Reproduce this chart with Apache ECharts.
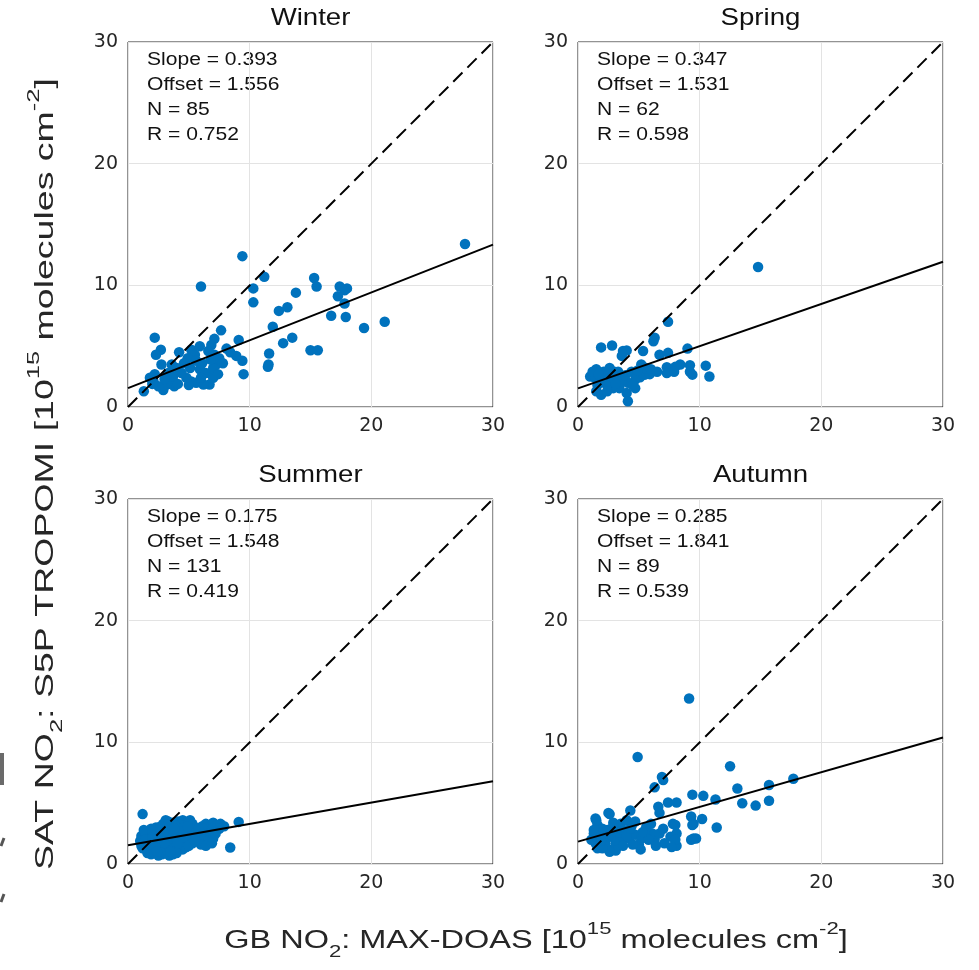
<!DOCTYPE html>
<html>
<head>
<meta charset="utf-8">
<script src="https://cdn.jsdelivr.net/npm/echarts@6/dist/echarts.min.js"></script>
<style>
html,body{margin:0;padding:0;background:#fff;}
#chart{width:979px;height:970px;}
</style>
</head>
<body>
<div id="chart"></div>
<script>
// ---------- data ----------
const seasons = ['Winter', 'Spring', 'Summer', 'Autumn'];
const slopes = [0.393, 0.347, 0.175, 0.285];
const offsets = [1.556, 1.531, 1.548, 1.841];
const counts = [85, 62, 131, 89];
const corrs = [0.752, 0.598, 0.419, 0.539];
const tickValues = [0, 10, 20, 30];

const winterPts = [
  [27.7,13.4],[9.4,12.4],[6.0,9.9],[11.2,10.7],[10.3,9.75],[10.3,8.6],[13.8,9.4],[15.3,10.6],[15.5,9.9],[17.4,9.9],
  [18.0,9.75],[17.8,9.6],[17.25,9.1],[17.8,8.5],[16.7,7.5],[17.9,7.4],[19.4,6.5],[21.1,7.0],[12.4,7.9],[13.1,8.2],
  [11.9,6.6],[13.5,5.7],[12.75,5.25],[15.0,4.67],[15.6,4.67],[11.6,4.4],[11.55,3.5],[11.5,3.3],[9.1,5.5],[9.4,3.8],
  [9.5,2.7],[8.9,4.2],[8.1,4.8],[7.65,6.3],[7.1,5.6],[6.85,5.1],[2.2,5.7],[2.7,4.7],[2.3,4.3],[2.75,3.5],[1.3,1.3],
  [5.2,4.7],[5.9,5.0],[5.5,4.3],[4.9,4.0],[5.6,3.8],[5.1,3.2],[5.9,3.1],[6.4,2.8],[7.0,2.4],[6.7,1.85],
  [6.2,1.85],[5.6,2.0],[5.2,2.1],[4.8,2.4],[4.4,2.8],[4.0,3.2],[3.7,2.5],[3.4,2.1],[3.8,1.7],[3.2,1.85],
  [2.9,1.4],[2.5,1.7],[2.1,2.1],[2.2,2.7],[1.8,2.4],[3.3,2.8],[7.25,3.5],[7.1,4.3],[7.5,4.0],[7.0,3.2],[7.4,2.7],
  [4.2,4.5],[4.6,3.6],[6.1,3.6],[6.6,4.6],[3.0,2.3],[4.1,1.9],[5.0,1.8],[6.0,2.4],[3.6,3.5],[2.0,1.9],[7.8,3.6],
  [8.4,4.5],[6.8,3.9]
];
const springPts = [
  [14.8,11.5],[7.4,7.0],[6.3,5.7],[6.2,5.4],[1.9,4.9],[2.8,5.05],[3.7,4.6],[4.0,4.65],[3.6,4.2],[5.35,4.6],
  [6.7,4.3],[7.4,4.45],[9.0,4.8],[8.4,3.5],[9.2,3.43],[9.2,2.9],[7.3,3.27],[7.3,2.8],[10.5,3.4],[10.8,2.5],[9.4,2.66],
  [5.9,2.7],[5.5,2.66],[5.1,2.45],[4.7,2.25],[4.1,2.0],[3.6,2.1],[3.2,2.4],[2.8,2.66],[2.1,2.9],[1.5,3.1],
  [1.0,2.5],[1.4,2.4],[1.8,2.1],[2.35,1.85],[1.5,1.3],[1.9,1.0],[2.9,1.55],[3.4,1.55],[4.0,1.15],[4.7,1.55],
  [4.1,0.47],[2.6,3.2],[3.3,2.9],[5.6,3.2],
  [1.2,2.9],[1.7,2.7],[2.2,2.3],[2.6,2.0],[3.0,2.9],[3.9,2.6],[4.4,2.9],[4.9,3.0],[5.2,3.5],[6.0,3.1],
  [6.5,2.9],[2.4,1.3],[3.1,1.9],[1.6,1.8],[4.5,1.8],[8.0,3.3],[7.9,2.9]
];
const summerPts = [
  [2.9,3.3],[3.3,3.5],[3.7,3.4],[4.1,3.5],[4.5,3.6],[4.9,3.4],[5.3,3.3],[3.1,3.6],[4.3,3.2],[5.1,3.6],
  [1.9,2.9],[2.3,3.0],[2.7,3.1],[3.5,3.0],[3.9,3.1],[4.7,3.0],[5.5,3.0],[2.5,2.7],[3.2,2.8],[4.0,2.8],
  [4.4,2.9],[5.0,2.8],[5.7,2.6],[1.5,2.6],
  [1.1,2.3],[1.4,2.2],[1.8,2.5],[2.1,2.4],[2.4,2.3],[2.8,2.5],[3.0,2.3],[3.4,2.5],[3.8,2.4],[4.2,2.5],
  [4.6,2.4],[5.0,2.3],[5.4,2.5],[5.6,2.1],[1.3,2.8],[2.0,2.7],[3.6,2.7],[4.8,2.6],
  [1.0,1.9],[1.3,1.7],[1.6,2.0],[1.9,1.8],[2.2,2.0],[2.5,1.9],[2.8,2.1],[3.1,1.9],[3.4,2.0],[3.7,1.8],
  [4.0,2.1],[4.3,1.9],[4.6,2.0],[4.9,1.8],[5.2,2.0],[1.7,1.5],[2.6,1.6],[3.5,1.6],[4.4,1.6],
  [1.2,1.3],[1.5,1.2],[1.8,1.4],[2.1,1.3],[2.4,1.4],[2.7,1.2],[3.0,1.4],[3.3,1.3],[3.6,1.2],[3.9,1.4],
  [4.2,1.3],[4.5,1.2],[4.8,1.4],[2.0,1.1],[2.9,1.0],[3.8,1.0],
  [1.6,0.9],[1.9,0.8],[2.2,0.9],[2.5,0.7],[2.8,0.8],[3.1,0.9],[3.4,0.7],[3.7,0.8],[4.0,0.9],[2.6,1.0],
  [6.1,3.1],[6.4,3.3],[6.7,3.2],[7.0,3.4],[7.3,3.2],[7.6,3.3],[7.9,3.1],[6.3,2.9],[6.9,2.9],[7.5,2.9],
  [6.1,2.5],[6.5,2.3],[6.8,2.6],[6.2,2.0],[6.6,1.9],[6.0,1.6],[6.4,1.5],[7.0,2.1],[7.2,2.5],[6.9,1.7],
  [1.2,4.1],[9.1,3.46],[8.4,1.36],
  [1.4,2.0],[2.3,1.7],[3.2,2.2],[3.9,2.2],[4.7,2.2],[5.3,1.7],[2.0,2.2],[2.7,2.8],[3.3,3.2],[4.5,2.7],
  [5.8,2.9],[1.1,1.5],[3.0,1.7],[4.1,1.7],[2.4,1.0],[3.5,1.0],[5.0,1.5],[5.5,1.9],[2.9,2.6],[3.8,2.9],[4.9,3.1]
];
const autumnPts = [
  [9.13,13.6],[4.9,8.8],[12.5,8.04],[6.9,7.15],[7.0,6.9],[6.3,6.3],[17.7,7.0],[15.7,6.5],[13.1,6.2],[15.7,5.2],
  [13.5,5.0],[14.6,4.8],[9.4,5.7],[10.3,5.6],[11.3,5.3],[7.4,5.05],[8.1,5.05],[6.6,4.7],[6.7,4.2],[4.3,4.4],
  [2.5,4.2],[9.3,3.9],[9.5,3.3],[10.2,3.7],[11.4,3.0],[7.8,3.3],[8.1,2.5],[7.6,2.25],[9.3,2.0],[9.7,2.1],
  [7.1,1.7],[8.1,1.5],[5.0,1.6],[6.3,2.0],[6.1,2.5],[5.5,2.7],[6.7,2.5],[7.0,2.9],
  [1.44,3.75],[1.6,3.2],[2.0,2.9],[2.4,2.8],[2.9,3.1],[3.5,3.3],[4.0,3.6],[4.7,3.5],[3.75,2.8],[3.2,2.4],
  [2.7,2.25],[2.1,2.4],[1.7,2.1],[1.44,1.7],[2.0,1.44],[2.7,1.17],[3.5,1.85],[4.2,2.1],[4.7,2.4],[5.2,2.1],
  [5.8,2.0],[1.85,2.5],[3.1,1.7],[4.4,3.1],[1.3,2.8],[2.25,1.7],[1.6,1.3],
  [2.6,4.1],[8.0,3.2],[9.4,3.2],[9.5,2.1],[8.0,2.0],[7.7,1.4],[6.4,1.5],[5.15,1.2],[1.5,3.6],[1.3,2.5],
  [3.1,1.1],[2.6,1.0],[2.0,1.3],[3.4,2.6],[4.0,2.3],[4.5,1.6],[5.6,3.0],[6.0,3.3],[1.9,1.9],[2.9,3.4],
  [3.7,1.5],[5.3,2.6],[1.1,2.0],[4.3,2.9]
];
const seasonPts = [winterPts, springPts, summerPts, autumnPts];

// ---------- layout ----------
const gLeft = [128, 578, 128, 578];
const gTop = [42, 42, 499, 499];
const gW = 365, gH = 365;
const tickFont = 'DejaVu Sans';
const txtFont = 'Liberation Sans';
const axisCol = '#262626';

const grids = [], xAxes = [], yAxes = [], series = [], graphics = [];
for (let i = 0; i < 4; i++) {
  grids.push({left: gLeft[i], top: gTop[i], width: gW, height: gH, show: true,
    borderColor: axisCol, borderWidth: 1, backgroundColor: '#fff'});
  const common = {min: 0, max: 30, interval: 10, gridIndex: i};
  xAxes.push(Object.assign({}, common, {
    type: 'value', position: 'bottom',
    axisLine: {show: false},
    axisTick: {show: false},
    axisLabel: {show: true, fontFamily: tickFont, fontSize: 19, color: axisCol, margin: 10,
      formatter: v => tickValues.includes(v) ? String(v) : ''},
    splitLine: {show: true, lineStyle: {color: '#e3e3e3', width: 1}}
  }));
  yAxes.push(Object.assign({}, common, {
    type: 'value', position: 'left',
    axisLine: {show: false},
    axisTick: {show: false},
    axisLabel: {show: true, fontFamily: tickFont, fontSize: 19, color: axisCol, margin: 10,
      formatter: v => tickValues.includes(v) ? String(v) : ''},
    splitLine: {show: true, lineStyle: {color: '#e3e3e3', width: 1}}
  }));

  series.push({
    type: 'scatter', xAxisIndex: i, yAxisIndex: i,
    data: seasonPts[i], symbol: 'circle', symbolSize: 10.5,
    itemStyle: {color: '#0072BD', opacity: 1}, z: 2, silent: true
  });
  series.push({
    type: 'line', xAxisIndex: i, yAxisIndex: i,
    data: [[0, 0], [30, 30]], symbol: 'none', z: 3, silent: true,
    lineStyle: {color: '#000', width: 2, type: [13, 7]}
  });
  series.push({
    type: 'line', xAxisIndex: i, yAxisIndex: i,
    data: [[0, offsets[i]], [30, offsets[i] + slopes[i] * 30]], symbol: 'none', z: 3, silent: true,
    lineStyle: {color: '#000', width: 2}
  });

  // title
  graphics.push({type: 'text', x: gLeft[i] + gW / 2, y: gTop[i] - 24, scaleX: 1.15,
    style: {text: seasons[i], font: '24px "' + txtFont + '"', fill: '#111', align: 'center', verticalAlign: 'middle'}});
  // annotation
  const lines = ['Slope = ' + slopes[i].toFixed(3), 'Offset = ' + offsets[i].toFixed(3),
    'N = ' + counts[i], 'R = ' + corrs[i].toFixed(3)];
  lines.forEach((t, k) => {
    graphics.push({type: 'text', x: gLeft[i] + 19, y: gTop[i] + 18.5 + 25 * k, scaleX: 1.17,
      style: {text: t, font: '18px "' + txtFont + '"', fill: '#111', align: 'left', verticalAlign: 'middle'}});
  });
}

// axis titles
const richSS = {
  sup: {fontSize: 17, lineHeight: 16, verticalAlign: 'top', fontFamily: txtFont, fill: '#262626'},
  sub: {fontSize: 17, lineHeight: 16, verticalAlign: 'bottom', fontFamily: txtFont, fill: '#262626'}
};
graphics.push({type: 'text', x: 536, y: 941, scaleX: 1.3,
  style: {text: 'GB NO{sub|2}: MAX-DOAS [10{sup|15} molecules cm{sup|-2}]',
    fontSize: 25, fontFamily: txtFont, lineHeight: 40, fill: '#262626',
    align: 'center', verticalAlign: 'middle', rich: richSS}});
graphics.push({type: 'text', x: 46, y: 474, rotation: Math.PI / 2, scaleX: 1.5,
  style: {text: 'SAT NO{sub|2}: S5P TROPOMI [10{sup|15} molecules cm{sup|-2}]',
    fontSize: 25, fontFamily: txtFont, lineHeight: 40, fill: '#262626',
    align: 'center', verticalAlign: 'middle', rich: richSS}});

// stray marks at the left edge of the picture
graphics.push({type: 'rect', shape: {x: 0, y: 753, width: 4, height: 32}, style: {fill: '#6a6a6a'}});
graphics.push({type: 'polyline', shape: {points: [[4, 838], [1, 846]]}, style: {stroke: '#555', lineWidth: 3}});
graphics.push({type: 'polyline', shape: {points: [[4, 894], [1, 902]]}, style: {stroke: '#555', lineWidth: 3}});

const chart = echarts.init(document.getElementById('chart'), null, {renderer: 'canvas'});
chart.setOption({
  animation: false,
  backgroundColor: '#fff',
  grid: grids, xAxis: xAxes, yAxis: yAxes, series: series,
  graphic: {elements: graphics}
});
</script>
</body>
</html>
